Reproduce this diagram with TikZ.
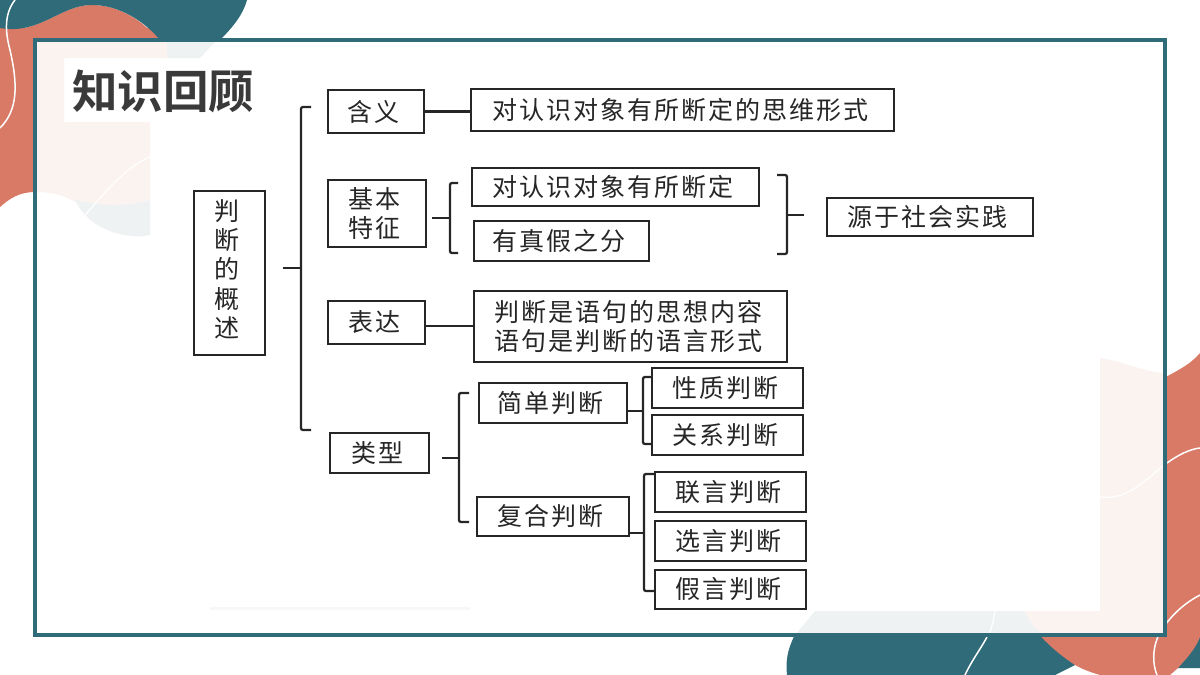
\documentclass[tikz,border=0pt]{standalone}
\usepackage{fontspec}
\newfontfamily\cjk[LetterSpace=8]{Noto Sans CJK SC}
\newfontfamily\cjktitle{Noto Sans CJK SC Bold}
\definecolor{teal0}{HTML}{2F6B78}
\definecolor{salmon}{HTML}{D87A66}
\definecolor{palesal}{HTML}{FBF3F0}
\definecolor{paleteal}{HTML}{EEF2F3}
\definecolor{titlec}{HTML}{3A3A3A}
\tikzset{
  x=1pt,y=-1pt,
  kbox/.style={draw=black!85,line width=1.3pt,fill=white,inner sep=0pt,align=center,text=black!85,
    font=\cjk\fontsize{25}{29}\selectfont},
  brk/.style={draw=black!85,line width=2.3pt,rounded corners=2pt},
  stem/.style={draw=black!85,line width=2.4pt},
  wline/.style={draw=white,line width=1.5pt},
  pline/.style={draw=white,line width=1.2pt}
}
\newcommand{\kn}{\kern5pt}
\newcommand{\kb}[6]{\node[kbox,minimum width=#3-#1,minimum height=#4-#2] (#5) at ({(#1+#3)/2},{(#2+#4)/2}) {#6\kn};}
\begin{document}
\begin{tikzpicture}
\useasboundingbox (0,0) rectangle (1200,675);
\fill[white] (0,0) rectangle (1200,675);
% top-left background
\fill[salmon] (0,28) -- (170,28) -- (170,60) -- (35,60) -- (35,192) .. controls (20,192) and (10,198) .. (0,207) -- cycle;
\fill[salmon] (0,28) .. controls (40,35) and (60,5) .. (92,5) .. controls (120,5) and (145,22) .. (160,42) -- (0,42) -- cycle;
\fill[teal0] (0,0) -- (247,0) .. controls (243,15) and (232,28) .. (220,40) -- (160,40) .. controls (145,22) and (120,5) .. (92,5) .. controls (60,5) and (40,35) .. (0,28) -- cycle;
\draw[wline] (15,0) .. controls (3,15) and (6,35) .. (10,50) .. controls (18,85) and (18,110) .. (0,128);
% bottom-right background
\fill[teal0] (787,675) .. controls (785,655) and (790,645) .. (797,630) -- (1045,630) -- (1075,665) -- (1055,675) -- cycle;
\fill[teal0] (1200,630) -- (1175,668) -- (1200,668) -- cycle;
\fill[salmon] (1160,380) .. controls (1175,372) and (1190,365) .. (1200,353) -- (1200,637) .. controls (1195,650) and (1185,660) .. (1178,668) -- (1170,675) -- (1100,675) .. controls (1090,672) and (1082,669) .. (1075,665) .. controls (1060,655) and (1048,645) .. (1035,630) -- (1160,630) -- cycle;
\draw[wline] (1167,463) .. controls (1178,455) and (1190,449) .. (1200,448);
\draw[wline] (1200,595) .. controls (1185,603) and (1175,612) .. (1165,625) .. controls (1153,640) and (1151,660) .. (1157,675);
\draw[wline] (987,637) .. controls (980,650) and (972,660) .. (965,675);
% panel
\fill[white] (35,40) rectangle (1165,635);
\fill[palesal] (37,42) -- (167,42) -- (167,58) -- (64,58) -- (64,122) -- (150,122) -- (150,200) .. controls (120,208) and (100,205) .. (77,203) .. controls (65,195) and (50,192) .. (37,192) -- cycle;
\fill[paleteal] (167,42) -- (215,42) -- (200,58) -- (167,58) -- cycle;
\fill[paleteal] (75,200) .. controls (90,232) and (130,240) .. (150,235) -- (150,200) .. controls (120,208) and (100,205) .. (75,200) -- cycle;
\draw[pline] (83,217) .. controls (100,200) and (120,170) .. (150,157);
\fill[palesal] (1100,358) .. controls (1125,362) and (1145,372) .. (1163,373) -- (1163,633) -- (1040,633) .. controls (1032,625) and (1027,618) .. (1024,611) -- (1100,611) -- cycle;
\fill[paleteal] (797,633) -- (815,611) -- (1024,611) .. controls (1027,618) and (1032,625) .. (1040,633) -- cycle;
\fill[paleteal!60!white] (210,607) rectangle (470,610);
\draw[pline] (1100,497) .. controls (1125,500) and (1140,485) .. (1163,466);
\draw[pline] (995,611) .. controls (994,618) and (992,626) .. (990,633);
\draw[teal0,line width=3.5pt] (35,40) rectangle (1165,635);
% title
\node[inner sep=0pt,text=titlec,font=\cjktitle\fontsize{45.5}{50}\selectfont] (title) at (163,91) {知识回顾};
% boxes
\node[kbox,minimum width=71,minimum height=164,font=\cjk\fontsize{25}{29.2}\selectfont] (root) at (229.5,273) {判\kn\\断\kn\\的\kn\\概\kn\\述\kn\rule[-9pt]{0pt}{9pt}};
\kb{328}{90}{424}{133}{hanyi}{含义}
\kb{328}{180}{426}{247}{tezheng}{基本\kn\\特征}
\kb{328}{301}{425}{344}{biaoda}{\raisebox{2.5pt}{表达}}
\kb{330}{433}{429}{473}{leixing}{类型}
\kb{471}{89}{894}{131}{def}{对认识对象有所断定的思维形式}
\kb{472}{168}{759}{206}{t1}{对认识对象有所断定}
\kb{474}{221}{649}{261}{t2}{有真假之分}
\kb{827}{198}{1033}{236}{src}{源于社会实践}
\kb{474}{291}{787}{362}{expr}{判断是语句的思想内容\kn\\语句是判断的语言形式}
\kb{479}{383}{627}{423}{simple}{简单判断}
\kb{477}{497}{629}{536}{compound}{复合判断}
\kb{652}{368}{803}{408}{s1}{性质判断}
\kb{652}{415}{803}{455}{s2}{关系判断}
\kb{655}{472}{806}{512}{c1}{联言判断}
\kb{655}{521}{806}{561}{c2}{选言判断}
\kb{655}{570}{806}{609}{c3}{假言判断}
% free bracket points
\coordinate (m0) at (283,268); \coordinate (m1) at (301,268);
\coordinate (b0) at (432,218); \coordinate (b1) at (450,218);
\coordinate (r0) at (787,215); \coordinate (r1) at (804,215);
\coordinate (l0) at (442,458); \coordinate (l1) at (459,458);
\coordinate (p1) at (643,411);
\coordinate (q1) at (644,533);
% connectors
\draw[stem] (hanyi.east) -- (def.west |- hanyi.east);
\draw[stem] (biaoda.east |- 0,326) -- (expr.west |- 0,326);
\draw[stem] (m0) -- (m1);
\draw[stem] (b0) -- (b1);
\draw[stem] (r0) -- (r1);
\draw[stem] (l0) -- (l1);
\draw[stem] (simple.east |- p1) -- (p1);
\draw[stem] (compound.east |- q1) -- (q1);
% brackets
\draw[brk] (311,107) -- (301,107) -- (301,430) -- (311,430);
\draw[brk] (458,183) -- (450,183) -- (450,253) -- (458,253);
\draw[brk] (777,175) -- (787,175) -- (787,254) -- (777,254);
\draw[brk] (469,393) -- (459,393) -- (459,522) -- (469,522);
\draw[brk] (s1.west |- 0,377) -- (643,377) -- (643,444) -- (s2.west |- 0,444);
\draw[brk] (c1.west |- 0,474) -- (644,474) -- (644,591) -- (c3.west |- 0,591);
\end{tikzpicture}
\end{document}
